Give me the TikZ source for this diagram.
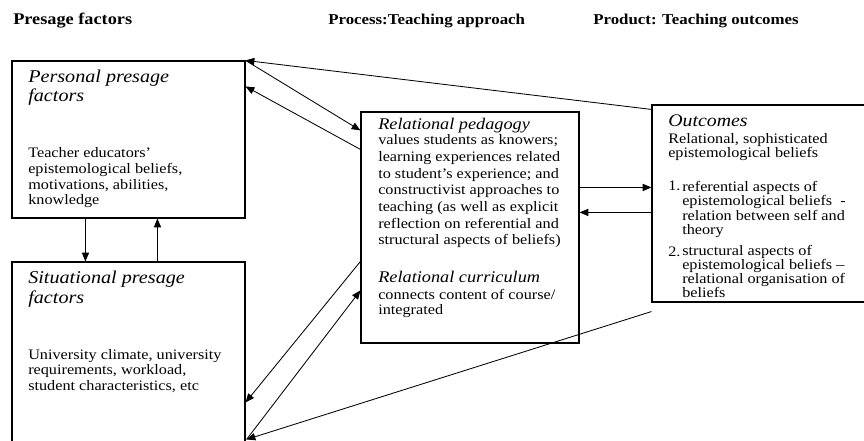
\documentclass[tikz,border=0pt]{standalone}
\usepackage{fontspec}
\setmainfont{Liberation Serif}[FakeStretch=1.12]
\usetikzlibrary{arrows.meta, fit, calc}

\begin{document}
\begin{tikzpicture}[x=0.25mm, y=-0.25mm,
    box/.style={draw, line width=0.8pt, inner sep=0pt},
    link/.style={line width=0.6pt, -{Triangle[length=2.2mm, width=1.8mm]}},
    hdr/.style={anchor=base west, inner sep=0pt, font=\fontsize{#1}{12}\selectfont\bfseries},
    ttl/.style={anchor=base west, align=left, inner sep=0pt, font=\fontsize{#1}{13.8}\selectfont\itshape},
    txt/.style={anchor=base west, align=left, inner sep=0pt, font=\fontsize{10.3}{#1}\selectfont}]
\useasboundingbox (0,0) rectangle (864,441);

% column headings
\node[hdr=11.6] (hpre) at (13,25) {Presage factors};
\node[hdr=10.7] (hpro) at (328,25) {Process:Teaching approach};
\node[hdr=10.7] (hout) at (593,25) {Product: Teaching outcomes};

% boxes
\node[box, fit={(12,61) (245,218)}] (personal) {};
\node[box, fit={(12,262) (245,470)}] (situational) {};
\node[box, fit={(361,112) (579,343)}] (relational) {};
\node[box, fit={(652,105) (890,302)}] (outcomes) {};

% presage texts (multi-line nodes sit on their last baseline)
\node[ttl=12.8] (ptitle) at (28,102) {Personal presage\\factors};
\node[txt=11.2] (pbody) at (28,205) {Teacher educators’\\epistemological beliefs,\\motivations, abilities,\\knowledge};
\node[ttl=12.8] (stitle) at (28,303) {Situational presage\\factors};
\node[txt=11] (sbody) at (28,390) {University climate, university\\requirements, workload,\\student characteristics, etc};

% process texts
\node[ttl=11.6] (rtitle) at (378,130) {Relational pedagogy};
\node[txt=11.9] (rbody) at (378,245) {values students as knowers;\\learning experiences related\\to student’s experience; and\\constructivist approaches to\\teaching (as well as explicit\\reflection on referential and\\structural aspects of beliefs)};
\node[ttl=11.6] (ctitle) at (378,283) {Relational curriculum};
\node[txt=10.7] (cbody) at (378,315) {connects content of course/\\integrated};

% product texts
\node[ttl=12.6] (otitle) at (668,127) {Outcomes};
\node[txt=10] (obody) at (668,158) {Relational, sophisticated\\epistemological beliefs};
\node[txt=10.4] (onum1) at (668,191) {1.};
\node[txt=10.4] (oitem1) at (682,235) {referential aspects of\\epistemological beliefs\ \ -\\relation between self and\\theory};
\node[txt=10.4] (onum2) at (668,257) {2.};
\node[txt=10] (oitem2) at (682,298) {structural aspects of\\epistemological beliefs --\\relational organisation of\\beliefs};

% links
\draw[link] ($(outcomes.north west)+(0,5)$) -- (personal.north east);
\draw[link] (personal.north east) -- ($(relational.north west)+(0,19)$);
\draw[link] ($(relational.north west)+(0,38)$) -- ($(personal.north east)+(0,26)$);
\draw[link] ($(personal.south west)+(74,0)$) -- ($(situational.north west)+(74,0)$);
\draw[link] ($(situational.north west)+(146,0)$) -- ($(personal.south west)+(146,0)$);
\draw[link] ($(relational.north west)+(0,150)$) -- ($(situational.north east)+(0,141)$);
\draw[link] ($(situational.north east)+(1,178)$) -- ($(relational.north west)+(0,179)$);
\draw[link] ($(outcomes.south west)+(0,9)$) -- ($(situational.north east)+(1,178)$);
\draw[link] ($(relational.north east)+(0,76)$) -- ($(outcomes.north west)+(0,83)$);
\draw[link] ($(outcomes.north west)+(0,108)$) -- ($(relational.north east)+(0,101)$);
\end{tikzpicture}
\end{document}
